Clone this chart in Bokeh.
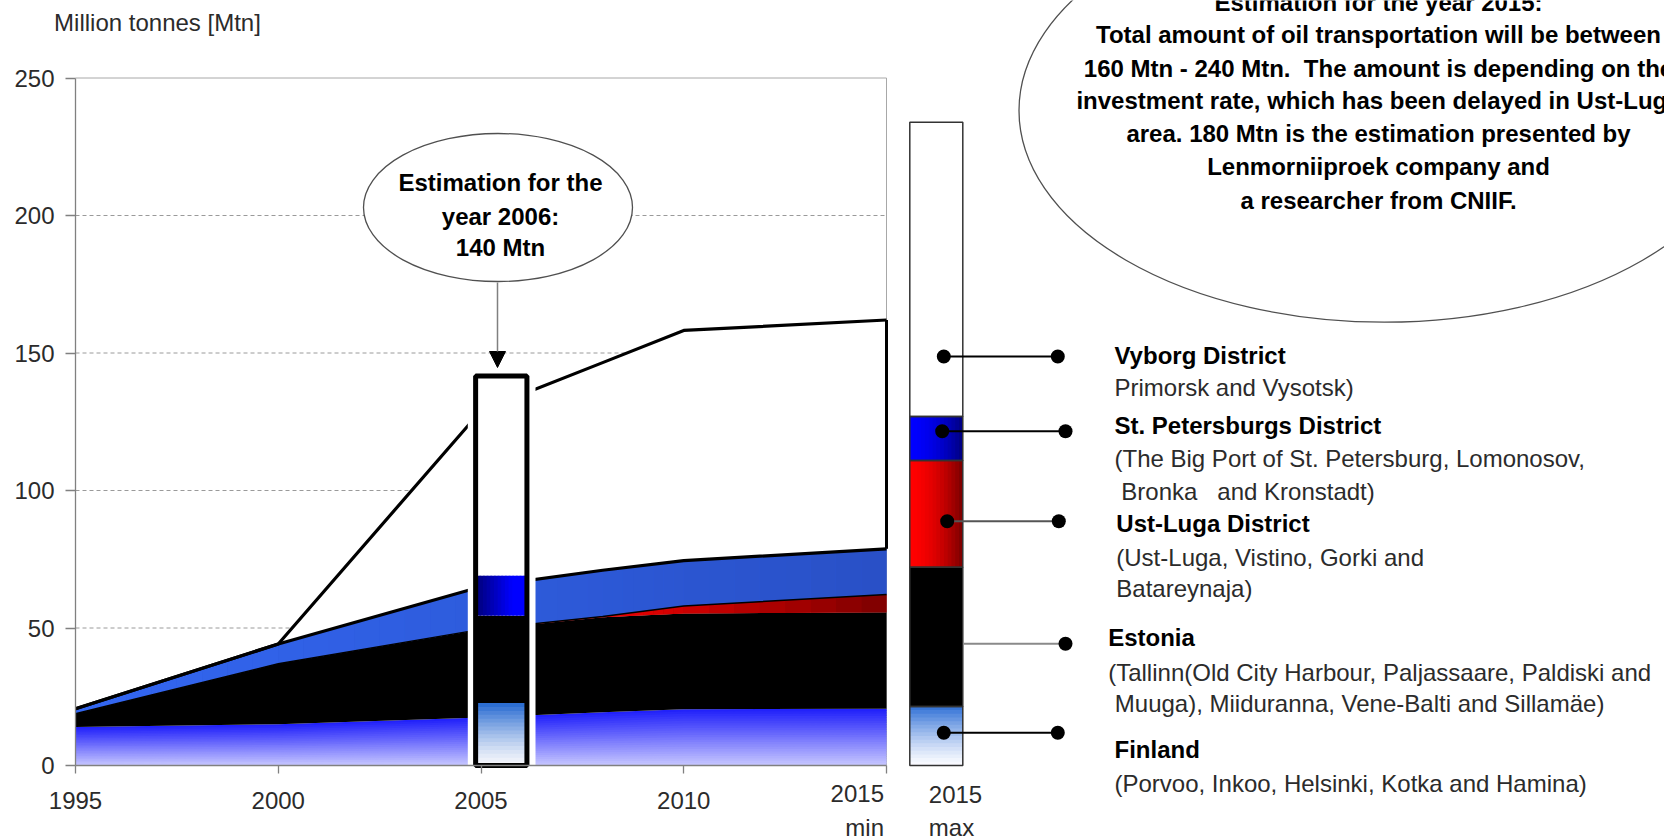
import numpy as np
from bokeh.plotting import figure
from bokeh.models import Range1d, LinearAxis, FixedTicker, Arrow, NormalHead
from bokeh.core.properties import value
from bokeh.embed import file_html
from bokeh.resources import INLINE

# ---------------- data ----------------
years = [1995, 2000, 2005, 2008, 2010, 2015]
finland = [14.0, 15.0, 17.5, 19.4, 20.5, 20.6]
estonia = [4.8, 22.0, 32.0, 34.5, 34.8, 35.1]
ust_luga = [0.0, 0.0, 0.0, 0.3, 2.7, 6.5]
st_petersburg = [1.8, 7.2, 15.5, 16.8, 16.5, 16.6]
vyborg = [0.0, 0.0, 64.0, 75.5, 83.7, 83.2]

regions = ["Finland", "Estonia", "Ust-Luga District", "St. Petersburgs District", "Vyborg District"]
estimate_2006 = [22.7, 31.8, 0.0, 14.6, 72.5]
max_2015 = [21.5, 50.6, 38.8, 16.0, 107.0]

x_ticks = [1995, 2000, 2005, 2010, 2015]
y_ticks = [0, 50, 100, 150, 200, 250]
y_title = "Million tonnes [Mtn]"

region_details = [
    ["(Porvoo, Inkoo, Helsinki, Kotka and Hamina)"],
    ["(Tallinn(Old City Harbour, Paljassaare, Paldiski and",
     "Muuga), Miiduranna, Vene-Balti and Sillamäe)"],
    ["(Ust-Luga, Vistino, Gorki and", "Batareynaja)"],
    ["(The Big Port of St. Petersburg, Lomonosov,",
     "Bronka\u00a0\u00a0\u00a0and Kronstadt)"],
    ["Primorsk and Vysotsk)"],
]
callout_2006 = ["Estimation for the", "year 2006:", "140 Mtn"]
callout_2015 = [
    "Estimation for the year 2015:",
    "Total amount of oil transportation will be between",
    "160 Mtn - 240 Mtn.\u00a0 The amount is depending on the",
    "investment rate, which has been delayed in Ust-Luga",
    "area. 180 Mtn is the estimation presented by",
    "Lenmorniiproek company and",
    "a researcher from CNIIF.",
]

# ---------------- layout / calibration (pixels of the page) ----------------
W, H, OFF = 1664, 836, 0
X1995, PXY = 75.0, 40.55      # x pixel of 1995, pixels per year
Y0, PXU = 765.0, 2.75         # y pixel of 0, pixels per Mtn


def yr(px):
    return 1995 + (px - X1995) / PXY


def val(py):
    return (Y0 - py) / PXU


def mix(c0, c1, t):
    t = min(max(t, 0.0), 1.0)
    return "#%02x%02x%02x" % tuple(int(round(a + (b - a) * t)) for a, b in zip(c0, c1))


FONT = "Liberation Sans"
TXT = "#2b2b2b"

p = figure(width=W, height=H, output_backend="svg", toolbar_location=None,
           x_range=Range1d(yr(OFF), yr(OFF + W)), y_range=Range1d(val(OFF + H), val(OFF)),
           x_axis_type=None, y_axis_type=None, min_border=0,
           outline_line_color=None, background_fill_color="white",
           border_fill_color="white")
p.extra_x_ranges = {"px": Range1d(OFF, OFF + W)}
p.extra_y_ranges = {"py": Range1d(OFF + H, OFF)}
PX = dict(x_range_name="px", y_range_name="py")


def txt(x, y, s, bold=False, align="left", color=TXT, size="24px"):
    p.text(x=[x], y=[y], text=[s], text_font=value(FONT), text_font_size=size,
           text_font_style="bold" if bold else "normal", text_align=align,
           text_baseline="middle", text_color=color, **PX)


# ---------------- grid + frame ----------------
gy = y_ticks[1:-1]
p.segment(x0=[x_ticks[0]] * len(gy), y0=gy, x1=[x_ticks[-1]] * len(gy), y1=gy,
          line_color="#9a9a9a", line_width=1, line_dash="4 3")
p.segment(x0=[x_ticks[0], x_ticks[-1]], y0=[y_ticks[-1], y_ticks[0]],
          x1=[x_ticks[-1], x_ticks[-1]], y1=[y_ticks[-1], y_ticks[-1]],
          line_color="#a8a8a8", line_width=1)

# ---------------- stacked areas ----------------
fin = np.array(finland)
c1 = fin
c2 = c1 + np.array(estonia)
c3 = c2 + np.array(ust_luga)
c4 = c3 + np.array(st_petersburg)
c5 = c4 + np.array(vyborg)

# Finland: vertical colour gradient (bands proportional to the layer)
NB = 24
for k in range(NB):
    p.varea(x=years, y1=c1 * k / NB, y2=c1 * min(1.0, (k + 1.6) / NB),
            fill_color=mix((200, 200, 255), (30, 30, 250), (k + 0.5) / NB))
p.varea(x=years, y1=c1, y2=c2, fill_color="black")

# horizontal colour gradients: same polygons, cut into thin vertical strips
p.varea(x=years, y1=c2, y2=c3, fill_color="#b00000")
p.varea(x=years, y1=c3, y2=c4, fill_color="#2e5ade")
for i in range(len(years) - 1):
    xs = np.linspace(years[i], years[i + 1], 9)
    lo_r, hi_r = np.interp(xs, years, c2), np.interp(xs, years, c3)
    hi_b = np.interp(xs, years, c4)
    for j in range(len(xs) - 1):
        xm = 0.5 * (xs[j] + xs[j + 1])
        tb = (xm - years[0]) / (years[-1] - years[0])
        p.varea(x=xs[j:j + 2], y1=hi_r[j:j + 2], y2=hi_b[j:j + 2],
                fill_color=mix((51, 103, 242), (41, 80, 198), tb))
        if hi_r[j] - lo_r[j] + hi_r[j + 1] - lo_r[j + 1] > 0:
            tr = (xm - 2008.0) / (years[-1] - 2008.0)
            p.varea(x=xs[j:j + 2], y1=lo_r[j:j + 2], y2=hi_r[j:j + 2],
                    fill_color=mix((240, 0, 0), (125, 0, 0), tr))
p.varea(x=years, y1=c4, y2=c5, fill_color="white")

p.line(x=years, y=c3, line_color="black", line_width=1.5)
p.line(x=years, y=c4, line_color="black", line_width=3.2)
p.line(x=years, y=c5, line_color="black", line_width=3.2)
p.segment(x0=[years[-1]], y0=[c4[-1]], x1=[years[-1]], y1=[c5[-1]], line_color="black", line_width=3)

# ---------------- 2006 estimate bar ----------------
tot06 = float(np.sum(estimate_2006))
p.quad(left=[yr(467.3)], right=[yr(535.0)], bottom=[0], top=[tot06],
       fill_color="white", line_color=None)
B6X, B6W = 2005.5, 1.265
b6_top = np.cumsum(estimate_2006)
b6_bot = b6_top - np.array(estimate_2006)
L6, R6 = B6X - B6W / 2, B6X + B6W / 2
NV = 16
for k in range(NV):
    lo = b6_bot[0] + estimate_2006[0] * k / NV
    hi = b6_bot[0] + estimate_2006[0] * min(1.0, (k + 1.5) / NV)
    p.quad(left=[L6], right=[R6], bottom=[lo], top=[hi], line_color=None,
           fill_color=mix((246, 247, 251), (36, 104, 208), ((k + 0.5) / NV) ** 1.3))
p.quad(left=[L6], right=[R6], bottom=[b6_bot[1]], top=[b6_top[1]], fill_color="black", line_color=None)
NH = 14
for k in range(NH):
    xl = L6 + B6W * k / NH
    xr = L6 + B6W * min(1.0, (k + 1.5) / NH)
    p.quad(left=[xl], right=[xr], bottom=[b6_bot[3]], top=[b6_top[3]], line_color=None,
           fill_color=mix((0, 0, 120), (0, 0, 255), (k + 0.5) / NH * 1.4))
p.quad(left=[L6], right=[R6], bottom=[b6_bot[4]], top=[b6_top[4]], fill_color="white", line_color=None)
p.quad(left=[L6], right=[R6], bottom=[0], top=[tot06], fill_color=None,
       line_color="black", line_width=5)

# callout 2006
p.ellipse(x=[497.5], y=[207], width=[269], height=[148], width_units="screen",
          height_units="screen", fill_color="white", line_color="#505050", line_width=1.3, **PX)
for s, yy in zip(callout_2006, [181.7, 215.5, 247.0]):
    txt(500, yy, s, bold=True, align="center", color="black")
p.add_layout(Arrow(end=NormalHead(size=16, fill_color="black", line_color="black"),
                   x_start=497, y_start=282, x_end=497, y_end=367,
                   line_color="#808080", line_width=1.5, **PX))

# ---------------- 2015 max bar (x in page pixels, y in Mtn) ----------------
MBX, MBW = 935.8, 53.0
LM, RM = MBX - MBW / 2, MBX + MBW / 2
m_top = np.cumsum(max_2015)
m_bot = m_top - np.array(max_2015)
for k in range(NV):
    lo = m_bot[0] + max_2015[0] * k / NV
    hi = m_bot[0] + max_2015[0] * min(1.0, (k + 1.5) / NV)
    p.quad(left=[LM], right=[RM], bottom=[lo], top=[hi], line_color=None, x_range_name="px",
           fill_color=mix((250, 251, 255), (48, 112, 214), ((k + 0.5) / NV) ** 1.3))
p.quad(left=[LM], right=[RM], bottom=[m_bot[1]], top=[m_top[1]], fill_color="black",
       line_color=None, x_range_name="px")
for k in range(NH):
    xl = LM + MBW * k / NH
    xr = LM + MBW * min(1.0, (k + 1.5) / NH)
    t = ((k + 0.5) / NH) ** 1.8
    p.quad(left=[xl], right=[xr], bottom=[m_bot[2]], top=[m_top[2]], line_color=None,
           fill_color=mix((255, 0, 0), (120, 0, 0), t), x_range_name="px")
    p.quad(left=[xl], right=[xr], bottom=[m_bot[3]], top=[m_top[3]], line_color=None,
           fill_color=mix((0, 0, 255), (0, 0, 125), t), x_range_name="px")
p.quad(left=[LM], right=[RM], bottom=[m_bot[4]], top=[m_top[4]], fill_color="white",
       line_color=None, x_range_name="px")
p.quad(left=[LM] * 5, right=[RM] * 5, bottom=list(m_bot), top=list(m_top), fill_color=None,
       line_color="#333333", line_width=1.5, x_range_name="px")

# leaders (region order)
lead_y = [732.3, 643.3, 520.7, 430.7, 356.0]
lead_x0 = [943.3, 963.3, 946.7, 941.7, 943.3]
lead_x1 = [1057.3, 1065.0, 1058.3, 1065.0, 1057.3]
lead_col = ["black", "#8a8a8a", "#555555", "black", "black"]
left_dot = [True, False, True, True, True]
p.segment(x0=lead_x0, y0=lead_y, x1=lead_x1, y1=lead_y, line_color=lead_col, line_width=2, **PX)
p.scatter(x=lead_x1, y=lead_y, size=14, marker="circle", fill_color="black", line_color=None, **PX)
p.scatter(x=[x for x, d in zip(lead_x0, left_dot) if d], y=[y for y, d in zip(lead_y, left_dot) if d],
          size=14, marker="circle", fill_color="black", line_color=None, **PX)

# legend texts (region order)
title_xy = [(1114.0, 749.3), (1107.7, 637.3), (1115.8, 522.7), (1114.0, 425.0), (1114.0, 355.0)]
detail_xy = [[(1114.0, 783.3)],
             [(1107.7, 671.7), (1114.3, 703.3)],
             [(1115.8, 556.7), (1115.8, 588.3)],
             [(1114.0, 458.3), (1120.8, 491.0)],
             [(1114.0, 386.7)]]
for name, (tx, ty), dets, dxy in zip(regions, title_xy, region_details, detail_xy):
    txt(tx, ty, name, bold=True, color="black")
    for s, (dx, dy) in zip(dets, dxy):
        txt(dx, dy, s)

# big callout 2015
p.ellipse(x=[1383.8], y=[110], width=[730.6], height=[423.4], width_units="screen",
          height_units="screen", fill_color="white", line_color="#505050", line_width=1.3, **PX)
for s, yy in zip(callout_2015, [2.0, 33.5, 67.5, 100.0, 133.3, 166.3, 199.5]):
    txt(1378, yy, s, bold=True, align="center", color="black")

# ---------------- axes ----------------
xaxis = LinearAxis(fixed_location=0, bounds=(x_ticks[0], x_ticks[-1]),
                   ticker=FixedTicker(ticks=x_ticks))
xaxis.major_label_overrides = {x_ticks[-1]: ""}
yaxis = LinearAxis(fixed_location=x_ticks[0], bounds=(y_ticks[0], y_ticks[-1]),
                   ticker=FixedTicker(ticks=y_ticks))
for ax, tout, stand in ((xaxis, 8, 18), (yaxis, 10, 11)):
    ax.axis_line_color = "#808080"
    ax.axis_line_width = 1.3
    ax.major_tick_line_color = "#808080"
    ax.major_tick_line_width = 1.3
    ax.major_tick_out = tout
    ax.major_tick_in = 0
    ax.minor_tick_line_color = None
    ax.major_label_standoff = stand
    ax.major_label_text_font = FONT
    ax.major_label_text_font_size = "24px"
    ax.major_label_text_color = TXT
p.add_layout(xaxis, "below")
p.add_layout(yaxis, "left")

# axis-side texts
txt(53.6, 21.7, y_title)
txt(883.5, 793.0, str(x_ticks[-1]), align="right")
txt(883.5, 827.0, "min", align="right")
txt(928.3, 794.0, str(x_ticks[-1]))
txt(928.3, 827.0, "max")

open("out.html", "w").write(file_html(p, INLINE))
